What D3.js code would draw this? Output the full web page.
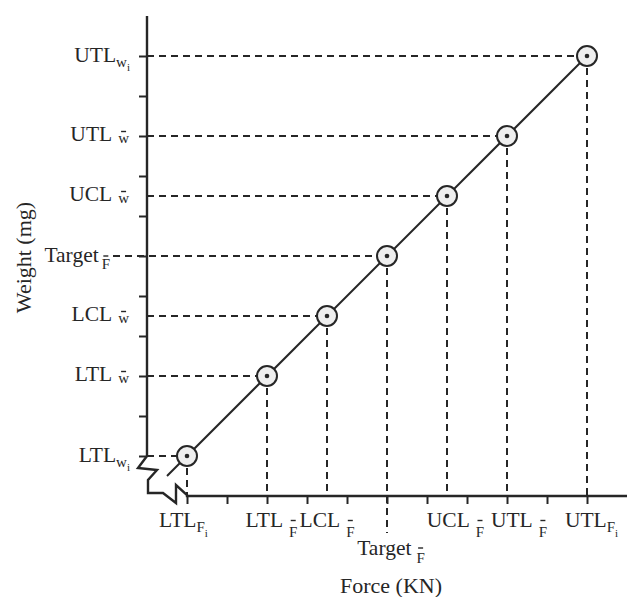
<!DOCTYPE html>
<html><head><meta charset="utf-8">
<script src="https://cdn.jsdelivr.net/npm/d3@7"></script>
<style>html,body{margin:0;padding:0;background:#fff}svg{display:block}</style>
</head><body>
<script>
// ---- data ----
const limitNames   = ["LTL", "LTL", "LCL", "Target", "UCL", "UTL", "UTL"];
const forceValues  = [0, 2, 3.5, 5, 6.5, 8, 10];
const weightValues = [0, 2, 3.5, 5, 6.5, 8, 10];
const xSubscripts  = ["Fi", "Fbar", "Fbar", "Fbar", "Fbar", "Fbar", "Fi"];
const ySubscripts  = ["wi", "wbar", "wbar", "Fbar", "wbar", "wbar", "wi"];
const tickValues   = [0, 1, 2, 3, 4, 5, 6, 7, 8, 9, 10];
const fitLineExtent = [-0.5, 10];
const xTitle = "Force (KN)";
const yTitle = "Weight (mg)";

// ---- layout ----
const W = 627, H = 597;
const INK = "#262626";
const FONT = "'Liberation Serif','Times New Roman',serif";
const xLabelNudge = [-3.5, 4.5, 0, 4, 8.5, 12, 4.5];   // horizontal label placement tweaks (px)
const x = d3.scaleLinear().domain([-1, 11]).range([147, 627]);
const y = d3.scaleLinear().domain([-1, 11]).range([496, 16]);

const svg = d3.select("body").append("svg").attr("width", W).attr("height", H)
  .style("background", "#fff").attr("font-family", FONT).attr("fill", INK);

const pts = forceValues.map((f, i) => ({f, w: weightValues[i], name: limitNames[i],
  xs: xSubscripts[i], ys: ySubscripts[i], target: limitNames[i] === "Target", nudge: xLabelNudge[i]}));

// dashed guides
const dash = "7,5";
svg.append("g").selectAll("line").data(pts).join("line")
  .attr("x1", d => d.target ? 113 : x(-1)).attr("x2", d => x(d.f))
  .attr("y1", d => y(d.w)).attr("y2", d => y(d.w))
  .attr("stroke", INK).attr("stroke-width", 2).attr("stroke-dasharray", dash);
svg.append("g").selectAll("line").data(pts).join("line")
  .attr("x1", d => x(d.f)).attr("x2", d => x(d.f))
  .attr("y1", d => y(d.w)).attr("y2", d => d.target ? 533 : y(-1))
  .attr("stroke", INK).attr("stroke-width", 2).attr("stroke-dasharray", dash);

// axes ticks
const ya = svg.append("g").attr("transform", `translate(${x(-1)},0)`)
  .call(d3.axisLeft(y).tickValues(tickValues).tickSize(8).tickFormat(""));
const xa = svg.append("g").attr("transform", `translate(0,${y(-1)})`)
  .call(d3.axisBottom(x).tickValues(tickValues).tickSize(8).tickFormat(""));
[ya, xa].forEach(a => { a.select(".domain").remove();
  a.selectAll(".tick line").attr("stroke", INK).attr("stroke-width", 2); });

// axis lines with break symbol
const ox = x(-1), oy = y(-1);
const brk = [[-9, -28], [10, -26], [1, -16], [1, -3], [16, -3], [29, 7], [29, -11]];
const axisPts = [[x(-1), y(11)], [x(-1), y(0)]]
  .concat(brk.map(p => [ox + p[0], oy + p[1]]))
  .concat([[x(0), y(-1) - 1], [x(0), y(-1)], [x(11), y(-1)]]);
svg.append("path").attr("d", d3.line()(axisPts)).attr("fill", "none")
  .attr("stroke", INK).attr("stroke-width", 2.4).attr("stroke-linejoin", "miter");

// fitted line
svg.append("path").attr("d", d3.line().x(d => x(d)).y(d => y(d))(fitLineExtent))
  .attr("stroke", INK).attr("stroke-width", 2).attr("fill", "none");

// points
const pg = svg.append("g").selectAll("g").data(pts).join("g")
  .attr("transform", d => `translate(${x(d.f)},${y(d.w)})`);
pg.append("circle").attr("r", 10).attr("fill", "#eeeeee").attr("stroke", INK).attr("stroke-width", 2);
pg.append("circle").attr("r", 2.3).attr("fill", INK);

// labels
function label(g, px, py, main, sub, anchor, o) {
  const t = g.append("text").attr("x", px).attr("y", py).attr("text-anchor", anchor)
    .attr("font-size", 21.5);
  t.append("tspan").text(main);
  const letter = sub[0];
  if (sub.endsWith("i")) {
    t.append("tspan").attr("font-size", 15).attr("dy", o.ldy).text(letter);
    t.append("tspan").attr("font-size", 11).attr("dy", o.idy).text("i");
  } else {
    t.append("tspan").attr("font-size", 15).attr("dx", o.gap).attr("dy", o.bdy).text(letter);
    const ext = t.node().getExtentOfChar(main.length);
    const cx = ext.x + ext.width / 2;
    const by = py + o.bdy - o.rise;
    g.append("line").attr("x1", cx - 2.5).attr("x2", cx + 2.5).attr("y1", by).attr("y2", by)
      .attr("stroke", INK).attr("stroke-width", 1.4);
  }
}
const lg = svg.append("g");
pts.forEach(d => {
  // y-axis labels
  if (d.ys === "wi") label(lg, 130, y(d.w) + 6, d.name, d.ys, "end", {ldy: 4.5, idy: 4});
  else if (d.ys === "wbar") label(lg, 129, y(d.w) + 5, d.name, d.ys, "end", {gap: 6, bdy: 2, rise: 11.5});
  else label(lg, 110, y(d.w) + 6, d.name, d.ys, "end", {gap: 3, bdy: 7, rise: 13});
  // x-axis labels
  const lx = x(d.f) + d.nudge;
  if (d.xs === "Fi") label(lg, lx, y(-1) + 31, d.name, d.xs, "middle", {ldy: 5, idy: 5});
  else if (d.target) label(lg, lx, y(-1) + 59, d.name, d.xs, "middle", {gap: 5, bdy: 8, rise: 15});
  else label(lg, lx, y(-1) + 31, d.name, d.xs, "middle", {gap: 6, bdy: 9.5, rise: 16});
});

// titles
svg.append("text").attr("x", 391).attr("y", 593).attr("text-anchor", "middle")
  .attr("font-size", 22).text(xTitle);
svg.append("text").attr("transform", "translate(31,257.5) rotate(-90)").attr("text-anchor", "middle")
  .attr("font-size", 22).text(yTitle);
</script>
</body></html>
